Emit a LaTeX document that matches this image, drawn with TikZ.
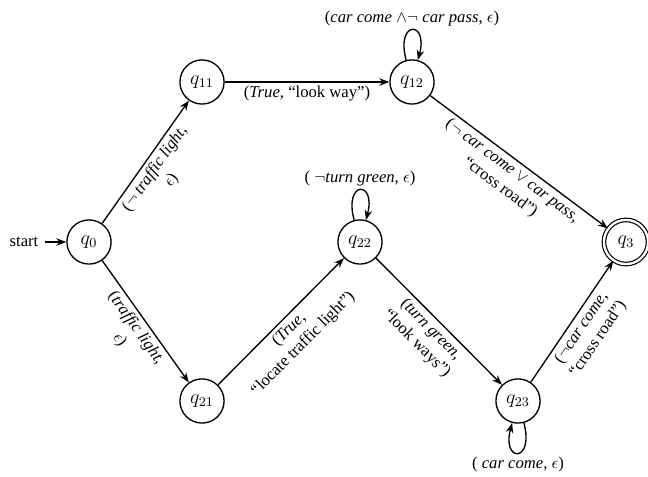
\documentclass[tikz,border=0pt]{standalone}
\usepackage[no-math]{fontspec}
\setmainfont{Liberation Serif}
\usetikzlibrary{automata,arrows.meta}
\begin{document}
\begin{tikzpicture}[x=0.6pt,y=0.6pt,
  >={Stealth[length=6pt,width=4.5pt]},
  every state/.style={draw, circle, line width=0.8pt, minimum size=26.5pt, inner sep=0pt, font=\large},
  every initial by arrow/.style={line width=0.8pt},
  initial distance=13pt,
  accepting/.style={double, double distance=1.4pt, line width=0.7pt},
  edgeline/.style={->, line width=0.8pt},
  every loop/.style={min distance=7.5mm, looseness=9},
  lbl/.style={align=center, inner sep=2pt},
  ]
\useasboundingbox (0,0) rectangle (648,477);
\node[state, initial, initial text=start, initial where=left] (q0) at (89,235) {$q_0$};
\node[state] (q11) at (202,395) {$q_{11}$};
\node[state] (q12) at (412,395) {$q_{12}$};
\node[state] (q21) at (202,76) {$q_{21}$};
\node[state] (q22) at (360,235) {$q_{22}$};
\node[state] (q23) at (518,76) {$q_{23}$};
\node[state, accepting] (q3) at (626,235) {$q_3$};
\path[edgeline]
  (q0) edge node[sloped, below, lbl] {($\neg$ \textit{traffic light},\\$\epsilon$)} (q11)
  (q11) edge node[below, lbl] {(\textit{True}, “look way”)} (q12)
  (q12) edge[loop above] node[above, lbl] {(\textit{car come} $\wedge\neg$ \textit{car pass}, $\epsilon$)} ()
  (q12) edge node[sloped, below, lbl] {($\neg$ \textit{car come} $\vee$ \textit{car pass},\\“cross road”)} (q3)
  (q0) edge node[sloped, below, lbl] {(\textit{traffic light},\\$\epsilon$)} (q21)
  (q21) edge node[sloped, below, lbl] {(\textit{True},\\“locate traffic light”)} (q22)
  (q22) edge[loop above] node[above, lbl] {( $\neg$\textit{turn green}, $\epsilon$)} ()
  (q22) edge node[sloped, below, lbl] {(\textit{turn green},\\“look ways”)} (q23)
  (q23) edge[loop below] node[below, lbl] {( \textit{car come}, $\epsilon$)} ()
  (q23) edge node[sloped, below, lbl] {($\neg$\textit{car come},\\“cross road”)} (q3);
\end{tikzpicture}
\end{document}
